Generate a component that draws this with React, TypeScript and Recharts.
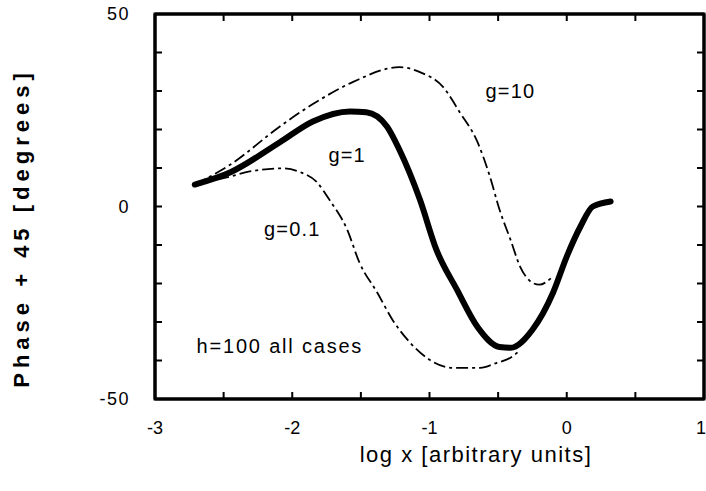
import { LineChart, Line, XAxis, YAxis, ReferenceDot } from 'recharts'

// log x values and phase+45 values
const g1X = [-2.71, -2.45, -2.09, -1.85, -1.58, -1.46, -1.31, -1.22, -1.07, -0.95, -0.8, -0.65, -0.49, -0.41, -0.25, -0.1, 0.0, 0.1, 0.19, 0.32]
const g1Y = [5.7, 8.9, 16.7, 22.1, 24.7, 24.5, 20.8, 14.8, 1.8, -11.2, -21.6, -31.3, -36.5, -36.7, -32.0, -22.4, -13.0, -5.2, 0.0, 1.3]

const g10X = [-2.71, -2.45, -2.09, -1.85, -1.56, -1.22, -1.07, -0.9, -0.78, -0.65, -0.56, -0.49, -0.41, -0.34, -0.25, -0.2, -0.11]
const g10Y = [5.7, 10.9, 20.8, 26.6, 32.3, 36.2, 34.9, 31.0, 24.5, 16.7, 7.8, -0.8, -8.6, -15.6, -19.8, -20.3, -18.5]

const g01X = [-2.71, -2.45, -2.31, -2.07, -1.94, -1.82, -1.73, -1.6, -1.51, -1.38, -1.27, -1.14, -1.0, -0.83, -0.63, -0.51, -0.41, -0.34]
const g01Y = [5.7, 7.8, 9.1, 9.9, 8.9, 6.3, 1.8, -6.0, -14.6, -22.4, -29.4, -35.4, -39.8, -41.9, -41.9, -40.6, -39.3, -37.3]

const xTicks = [-3, -2.5, -2, -1.5, -1, -0.5, 0, 0.5, 1]
const yTicks = [-50, -40, -30, -20, -10, 0, 10, 20, 30, 40, 50]

const toRows = (xs: number[], ys: number[]) => xs.map((x, i) => ({ x, y: ys[i] }))
const g1 = toRows(g1X, g1Y)
const g10 = toRows(g10X, g10Y)
const g01 = toRows(g01X, g01Y)

const font = '"Liberation Sans", Arial, sans-serif'
const tickText = { fontSize: 18, fontFamily: font, fill: '#000', letterSpacing: 1.5 }
const axisStroke = { stroke: '#000', strokeWidth: 3 }
const tickStroke = { stroke: '#000', strokeWidth: 2 }

// plot box, matching the chart margins and axis sizes below
const plot = { left: 155, top: 14, right: 704, bottom: 399 }

const yFmt = (v: number) => (v % 50 === 0 ? String(v) : '')

// bottom labels only on whole decades; the last one is pulled in from the edge
const bottomLabel = ({ x, y, payload }: any) => {
    if (!Number.isInteger(payload.value)) return <g />
    const last = payload.value === 1
    return (
        <text x={last ? x + 2 : x} y={y + 14} textAnchor={last ? 'end' : 'middle'} fontSize={18} fontFamily={font} fill="#000">
            {payload.value}
        </text>
    )
}

// top and right frame axes carry tick marks but no labels
const noLabel = () => <g />

const note = (value: string, spacing = 1.2) => ({
    value,
    position: 'center' as const,
    fontSize: 20,
    fontFamily: font,
    fill: '#000',
    letterSpacing: spacing,
})

export default function App() {
    return (
        <div style={{ position: 'absolute', left: 0, top: 0, width: 706, height: 491, background: '#fff' }}>
            <LineChart width={706} height={491} margin={{ top: 0, right: 0, left: 0, bottom: 0 }}>
                <XAxis
                    xAxisId="b"
                    type="number"
                    dataKey="x"
                    domain={[-3, 1]}
                    ticks={xTicks}
                    interval={0}
                    allowDataOverflow
                    height={92}
                    tickSize={-7}
                    tickMargin={28}
                    tickLine={tickStroke}
                    tick={bottomLabel}
                    axisLine={axisStroke}
                />
                <XAxis
                    xAxisId="t"
                    orientation="top"
                    type="number"
                    dataKey="x"
                    domain={[-3, 1]}
                    ticks={xTicks}
                    interval={0}
                    allowDataOverflow
                    height={14}
                    tickSize={-7}
                    tickLine={tickStroke}
                    tick={noLabel}
                    axisLine={axisStroke}
                />
                <YAxis
                    yAxisId="l"
                    type="number"
                    domain={[-50, 50]}
                    ticks={yTicks}
                    interval={0}
                    allowDataOverflow
                    width={155}
                    tickSize={-7}
                    tickMargin={32}
                    tickLine={tickStroke}
                    tick={tickText}
                    tickFormatter={yFmt}
                    axisLine={axisStroke}
                />
                <YAxis
                    yAxisId="r"
                    orientation="right"
                    type="number"
                    domain={[-50, 50]}
                    ticks={yTicks}
                    interval={0}
                    allowDataOverflow
                    width={2}
                    tickSize={-7}
                    tickLine={tickStroke}
                    tick={noLabel}
                    axisLine={axisStroke}
                />
                {/* g=10 is bound to the top/right axes, which share the same domains */}
                <Line
                    xAxisId="t"
                    yAxisId="r"
                    data={g10}
                    dataKey="y"
                    type="monotone"
                    stroke="#000"
                    strokeWidth={1.8}
                    strokeDasharray="12 4 3 4"
                    dot={false}
                    isAnimationActive={false}
                />
                <Line
                    xAxisId="b"
                    yAxisId="l"
                    data={g01}
                    dataKey="y"
                    type="monotone"
                    stroke="#000"
                    strokeWidth={1.8}
                    strokeDasharray="12 4 3 4"
                    dot={false}
                    isAnimationActive={false}
                />
                <Line
                    xAxisId="b"
                    yAxisId="l"
                    data={g1}
                    dataKey="y"
                    type="monotone"
                    stroke="#000"
                    strokeWidth={6}
                    strokeLinecap="round"
                    dot={false}
                    isAnimationActive={false}
                />
                <ReferenceDot xAxisId="b" yAxisId="l" x={-0.41} y={29.9} r={0} stroke="none" label={note('g=10')} />
                <ReferenceDot xAxisId="b" yAxisId="l" x={-1.6} y={13.5} r={0} stroke="none" label={note('g=1')} />
                <ReferenceDot xAxisId="b" yAxisId="l" x={-2.0} y={-5.7} r={0} stroke="none" label={note('g=0.1')} />
                <ReferenceDot xAxisId="b" yAxisId="l" x={-2.09} y={-36.2} r={0} stroke="none" label={note('h=100 all cases', 1.8)} />
            </LineChart>
            {/* heavy frame round the plot box, drawn over the chart */}
            <svg
                width={706}
                height={491}
                style={{ position: 'absolute', left: 0, top: 0, pointerEvents: 'none' }}
            >
                <rect
                    x={plot.left}
                    y={plot.top}
                    width={plot.right - plot.left}
                    height={plot.bottom - plot.top}
                    fill="none"
                    stroke="#000"
                    strokeWidth={3}
                />
            </svg>
            <div
                style={{
                    position: 'absolute',
                    left: 22,
                    top: 228,
                    transform: 'translate(-50%, -50%) rotate(-90deg)',
                    whiteSpace: 'nowrap',
                    fontFamily: font,
                    fontWeight: 'bold',
                    fontSize: 22,
                    letterSpacing: 5,
                    color: '#000',
                }}
            >
                Phase + 45 [degrees]
            </div>
            <div
                style={{
                    position: 'absolute',
                    left: 476,
                    top: 455,
                    transform: 'translate(-50%, -50%)',
                    whiteSpace: 'nowrap',
                    fontFamily: font,
                    fontSize: 22,
                    letterSpacing: 1.5,
                    color: '#000',
                }}
            >
                log x [arbitrary units]
            </div>
        </div>
    )
}
